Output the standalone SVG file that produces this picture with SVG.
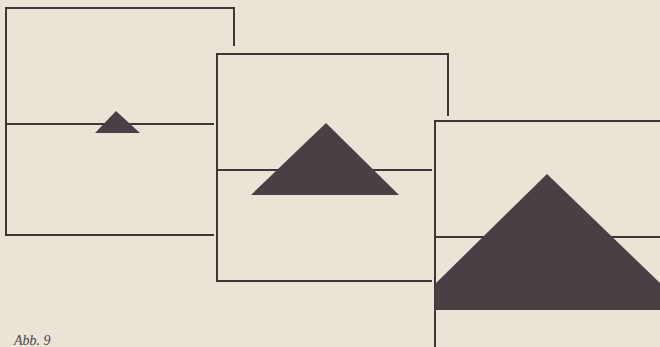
<svg xmlns="http://www.w3.org/2000/svg" width="660" height="347" viewBox="0 0 660 347">
<style>
.ln{fill:none;stroke:#3f3638;stroke-width:2;stroke-linecap:square}
.tri{fill:#4a3f44}
.cap{font-family:"Liberation Serif",serif;font-style:italic;font-size:14px;fill:#4a4446}
</style>
<rect width="660" height="347" fill="#ebe3d6"/>
<g id="frame1">
<polyline class="ln" points="234,45 234,8 6,8 6,235 213,235"/>
<line class="ln" x1="6" y1="124" x2="213" y2="124"/>
<polygon class="tri" points="116,111 140,133 95,133"/>
</g>
<g id="frame2">
<polyline class="ln" points="448,115 448,54 217,54 217,281 431,281"/>
<line class="ln" x1="217" y1="170" x2="431" y2="170"/>
<polygon class="tri" points="326,123 399,195 251,195"/>
</g>
<g id="frame3">
<polyline class="ln" points="661,121 435,121 435,348"/>
<line class="ln" x1="435" y1="237" x2="661" y2="237"/>
<polygon class="tri" points="547,174 660,283 660,310 435,310 435,284"/>
</g>
<text class="cap" x="14" y="345">Abb. 9</text>
</svg>
